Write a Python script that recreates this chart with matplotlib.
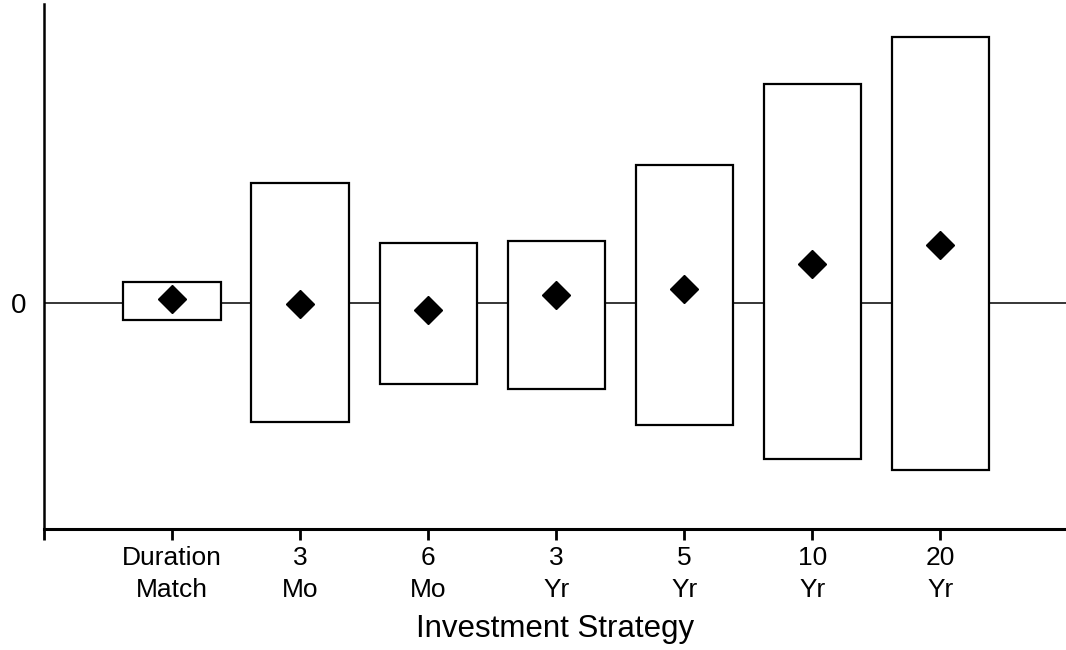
import matplotlib
matplotlib.use("Agg")
import matplotlib.pyplot as plt
from matplotlib.patches import Rectangle

plt.rcParams['font.family'] = ['Liberation Sans', 'DejaVu Sans']

strategies = ["Duration\nMatch", "3\nMo", "6\nMo", "3\nYr", "5\nYr", "10\nYr", "20\nYr"]
box_high = [0.21, 1.20, 0.60, 0.62, 1.38, 2.19, 2.66]
box_low = [-0.17, -1.19, -0.81, -0.86, -1.22, -1.56, -1.67]
means = [0.04, -0.01, -0.07, 0.08, 0.14, 0.39, 0.58]

fig = plt.figure(figsize=(10.66, 6.5), dpi=100)
ax = fig.add_axes([44/1066, 121/650, 1 - 44/1066, (650-4-121)/650])

positions = list(range(1, len(strategies) + 1))
width = 0.76

ax.axhline(0, color='black', lw=1.1, zorder=1)
for x, lo, hi in zip(positions, box_low, box_high):
    ax.add_patch(Rectangle((x - width/2, lo), width, hi - lo, facecolor='white',
                           edgecolor='black', lw=1.6, zorder=2))
ax.plot(positions, means, linestyle='none', marker='D', markersize=14,
        color='black', zorder=3)

ax.set_xlim(0, 7.98)
ax.set_ylim(-2.26, 2.99)

ax.set_xticks([0] + positions)
ax.set_xticklabels([''] + strategies, fontsize=19, linespacing=1.42)
ax.set_yticks([0])
ax.set_yticklabels(['0'], fontsize=20)
ax.tick_params(axis='x', direction='out', length=8, width=2, pad=4)
ax.tick_params(axis='y', length=0, pad=13)

for s in ['top', 'right']:
    ax.spines[s].set_visible(False)
ax.spines['left'].set_linewidth(1.8)
ax.spines['bottom'].set_linewidth(2.2)

ax.set_xlabel('Investment Strategy', fontsize=22.5, labelpad=9)

fig.savefig('out.png', dpi=100)
